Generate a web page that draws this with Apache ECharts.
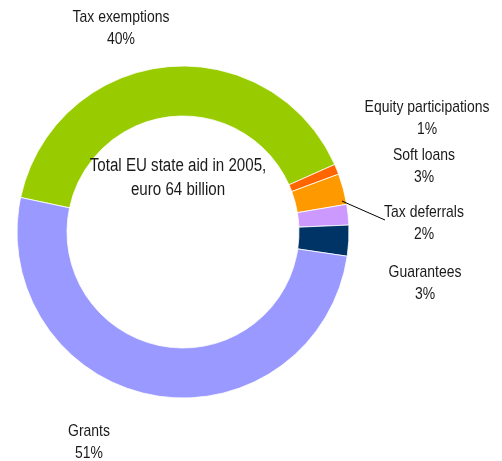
<!DOCTYPE html>
<html>
<head>
<meta charset="utf-8">
<script src="https://cdn.jsdelivr.net/npm/echarts@6/dist/echarts.min.js"></script>
<style>
  html, body { margin: 0; padding: 0; background: #fff; }
  #chart { width: 502px; height: 461px; }
</style>
</head>
<body>
<div id="chart"></div>
<script>
// Instruments of EU state aid, share of total (%)
const categories = ['Tax exemptions', 'Equity participations', 'Soft loans', 'Tax deferrals', 'Guarantees', 'Grants'];
const shares = [40, 1, 3, 2, 3, 51];
const centreLines = ['Total EU state aid in 2005,', 'euro 64 billion'];

// Presentation
const colors = ['#99CC00', '#FF6600', '#FF9900', '#CC99FF', '#003366', '#9999FF'];
const labelPos = {
  'Tax exemptions': [121, 28],
  'Equity participations': [427, 118],
  'Soft loans': [424, 166],
  'Tax deferrals': [424, 223],
  'Guarantees': [425, 283],
  'Grants': [89, 442]
};
const FONT = '"Liberation Sans", Arial, sans-serif';
const NARROW = 0.82;           // horizontal squeeze to get a narrow face
const TEXT = '#1a1a1a';
const CX = 183, CY = 232, R_IN = 116, R_OUT = 166;

const chart = echarts.init(document.getElementById('chart'), null, { renderer: 'canvas' });

// condensed text block centred on (x, y)
function narrowText(x, y, text, size, lineHeight, sx) {
  return {
    type: 'text',
    x: x, y: y,
    scaleX: sx,
    z: 50,
    silent: true,
    style: {
      x: 0, y: 0,
      text: text,
      font: size + 'px ' + FONT,
      lineHeight: lineHeight,
      fill: TEXT,
      align: 'center',
      verticalAlign: 'middle'
    }
  };
}

// category labels
const labelGraphics = categories.map((n, i) =>
  narrowText(labelPos[n][0], labelPos[n][1], n + '\n' + shares[i] + '%', 17, 22, NARROW));

// leader line for the tax deferrals label
const a = 11 * Math.PI / 180;
const lineStart = [CX + (R_OUT - 4) * Math.cos(a), CY - (R_OUT - 4) * Math.sin(a)];
const lineEnd = [385, 220];

chart.setOption({
  animation: false,
  backgroundColor: '#fff',
  graphic: [
    narrowText(178, 178, centreLines.join('\n'), 18, 24, 0.84),
    ...labelGraphics,
    {
      type: 'line',
      shape: { x1: lineStart[0], y1: lineStart[1], x2: lineEnd[0], y2: lineEnd[1] },
      style: { stroke: '#000', lineWidth: 1 },
      z: 100
    }
  ],
  series: [{
    type: 'pie',
    center: [CX, CY],
    radius: [R_IN, R_OUT],
    startAngle: 168,
    clockwise: true,
    data: categories.map((n, i) => ({ name: n, value: shares[i], itemStyle: { color: colors[i] } })),
    itemStyle: { borderColor: '#fff', borderWidth: 0.8 },
    emphasis: { disabled: true },
    label: { show: false },
    labelLine: { show: false }
  }]
});
</script>
</body>
</html>
